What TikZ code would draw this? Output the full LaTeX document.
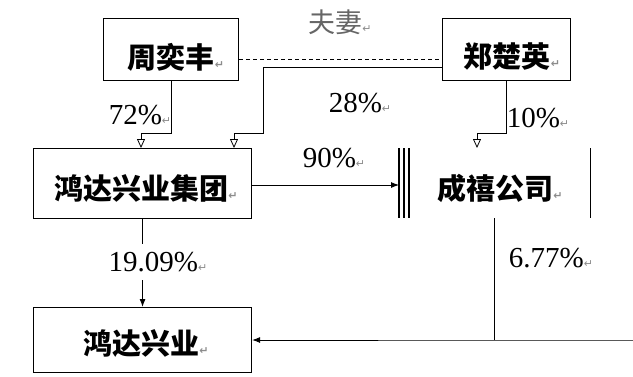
\documentclass[tikz,border=0pt]{standalone}
\usepackage{fontspec}
\setmainfont{Liberation Serif}
\newfontfamily\cjk{Noto Sans CJK SC}
\newfontfamily\symf{DejaVu Sans}
\usetikzlibrary{arrows.meta}
\newcommand{\pmark}{{\symf\fontsize{11}{11}\selectfont\color{black!45}↵}}
\begin{document}
\begin{tikzpicture}[x=1pt,y=-1pt,
  boxline/.style={draw=black,line width=1.1pt},
  conn/.style={draw=black,line width=0.9pt},
  openarrow/.style={conn,-{Triangle[open,width=8pt,length=9pt,line width=0.8pt]}},
  fillarrow/.style={conn,-{Latex[width=6pt,length=8pt]}},
  cn/.style={font=\cjk\bfseries\fontsize{29}{29}\selectfont,inner sep=0pt,anchor=center},
  pct/.style={font=\fontsize{29}{29}\selectfont,inner sep=0pt,anchor=center},
  rel/.style={font=\cjk\fontsize{27}{27}\selectfont,text=black!60,inner sep=0pt,anchor=center}]
\useasboundingbox (0,0) rectangle (633,376);
\fill[white] (0,0) rectangle (633,376);
% boxes
\node[boxline,minimum width=135pt,minimum height=62pt,anchor=north west] (zhou) at (103,18) {};
\node[boxline,minimum width=128pt,minimum height=62pt,anchor=north west] (zheng) at (442,18) {};
\node[boxline,minimum width=218pt,minimum height=70pt,anchor=north west] (jt) at (33,148) {};
\node[minimum width=191pt,minimum height=70pt,anchor=north west,inner sep=0pt] (cx) at (399,148) {};
\draw[line width=1.1pt] (cx.north west) -- (cx.south west);
\draw[line width=1.1pt] ([xshift=5pt]cx.north west) -- ([xshift=5pt]cx.south west);
\draw[line width=1.1pt] ([xshift=10pt]cx.north west) -- ([xshift=10pt]cx.south west);
\draw[line width=1.1pt] (cx.north east) -- (cx.south east);
\node[boxline,minimum width=218pt,minimum height=65pt,anchor=north west] (gf) at (33,307) {};
% texts
\node[cn] (zhout) at (176,57) {周奕丰\pmark};
\node[cn] (zhengt) at (512,57) {郑楚英\pmark};
\node[cn] (jtt) at (146,188) {鸿达兴业集团\pmark};
\node[cn] (cxt) at (500,188) {成禧公司\pmark};
\node[cn] (gft) at (146,343) {鸿达兴业\pmark};
\node[rel] (fq) at (340,22) {夫妻\pmark};
% spouse link
\draw[conn,dashed,dash pattern=on 4pt off 3pt] (zhou.east |- 0,59) -- (zheng.west |- 0,59);
% shareholdings
\coordinate (z1) at (171,133);
\coordinate (z2) at (141,133);
\draw[openarrow] (zhou.south -| z1) -- (z1) -- (z2) -- (jt.north -| z2);
\coordinate (y0) at (263,67);
\coordinate (y1) at (263,133);
\coordinate (y2) at (234,133);
\draw[openarrow] (zheng.west |- y0) -- (y0) -- (y1) -- (y2) -- (jt.north -| y2);
\coordinate (w1) at (506,133);
\coordinate (w2) at (477,133);
\draw[openarrow] (zheng.south -| w1) -- (w1) -- (w2) -- (cx.north -| w2);
\draw[fillarrow] (jt.east |- 0,185) -- (cx.west |- 0,185);
\draw[fillarrow] (jt.south) -- (gf.north -| jt.south);
\coordinate (c1) at (494,340);
\coordinate (rc) at (633,340);
\draw[conn] (cx.south -| c1) -- (c1);
\draw[fillarrow] (rc) -- (c1) -- (gf.east |- c1);
% labels
\node[pct] (p72) at (140,115) {72\%\pmark};
\node[pct] (p28) at (360,103) {28\%\pmark};
\node[pct] (p10) at (538,118) {10\%\pmark};
\node[pct] (p90) at (334,158) {90\%\pmark};
\node[pct,fill=white,inner ysep=8pt,inner xsep=2pt] (p1909) at (158,262) {19.09\%\pmark};
\node[pct] (p677) at (551,258) {6.77\%\pmark};
\end{tikzpicture}
\end{document}
